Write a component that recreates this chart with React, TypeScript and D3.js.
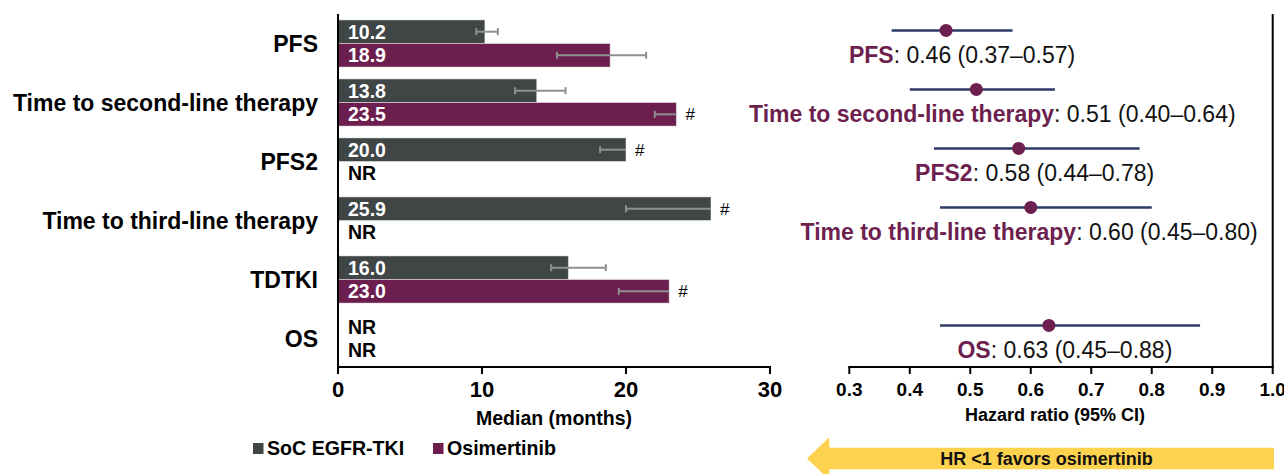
import React from "react";
import * as d3 from "d3";

const categories = [
  "PFS",
  "Time to second-line therapy",
  "PFS2",
  "Time to third-line therapy",
  "TDTKI",
  "OS",
];
// Median (months); null = NR (not reached)
const socMedian: (number | null)[] = [10.2, 13.8, 20.0, 25.9, 16.0, null];
const osiMedian: (number | null)[] = [18.9, 23.5, null, null, 23.0, null];
// 95% CI bounds; upper null = not reached (marked #)
const socLower: (number | null)[] = [9.6, 12.3, 18.2, 20.0, 14.8, null];
const socUpper: (number | null)[] = [11.1, 15.8, null, null, 18.6, null];
const osiLower: (number | null)[] = [15.2, 22.0, null, null, 19.5, null];
const osiUpper: (number | null)[] = [21.4, null, null, null, null, null];

// Hazard ratios
const hrValue: (number | null)[] = [0.46, 0.51, 0.58, 0.6, null, 0.63];
const hrLow: (number | null)[] = [0.37, 0.4, 0.44, 0.45, null, 0.45];
const hrHigh: (number | null)[] = [0.57, 0.64, 0.78, 0.8, null, 0.88];

const monthTicks = [0, 10, 20, 30];
const hrTicks = [0.3, 0.4, 0.5, 0.6, 0.7, 0.8, 0.9, 1.0];
const seriesNames = ["SoC EGFR-TKI", "Osimertinib"];

const SOC = "#404646";
const OSI = "#6c1f4e";
const PURPLE = "#6d1f4f";
const NAVY = "#2b3a67";
const ERR = "#8f8f8f";
const YELLOW = "#fdd24e";
const FONT = "'Liberation Sans', Arial, Helvetica, sans-serif";

let measureCtx: CanvasRenderingContext2D | null = null;
function textWidth(bold: string, normal: string, size: number): number {
  if (typeof document === "undefined") return (bold.length + normal.length) * size * 0.55;
  if (!measureCtx) measureCtx = document.createElement("canvas").getContext("2d");
  if (!measureCtx) return (bold.length + normal.length) * size * 0.55;
  measureCtx.font = `bold ${size}px 'Liberation Sans', Arial, sans-serif`;
  const wb = measureCtx.measureText(bold).width;
  measureCtx.font = `${size}px 'Liberation Sans', Arial, sans-serif`;
  const wn = measureCtx.measureText(normal).width;
  return wb + wn;
}

export default function App() {
  const W = 1284;
  const H = 474;
  const axisY = 367;
  const x = d3.scaleLinear().domain([0, 30]).range([338, 770]);
  const y = d3
    .scaleBand<string>()
    .domain(categories)
    .range([14, 368])
    .paddingInner(0.2)
    .paddingOuter(0.1);
  const sub = d3
    .scaleBand<string>()
    .domain(["soc", "osi"])
    .range([0, y.bandwidth()]);
  const hx = d3.scaleLinear().domain([0.3, 1.0]).range([849.3, 1272.7]);
  const f2 = d3.format(".2f");
  const f1 = d3.format(".1f");
  const fm = d3.format(".1f");

  const barRows = categories.map((c, i) => [
    { key: "soc", med: socMedian[i], lo: socLower[i], hi: socUpper[i], color: SOC },
    { key: "osi", med: osiMedian[i], lo: osiLower[i], hi: osiUpper[i], color: OSI },
  ]);

  return (
    <svg
      width={W}
      height={H}
      style={{ position: "absolute", left: 0, top: 0, background: "#fff" }}
      fontFamily={FONT}
    >
      {/* Category labels */}
      {categories.map((c) => (
        <text
          key={c}
          x={318}
          y={(y(c) as number) + y.bandwidth() / 2 + 8}
          textAnchor="end"
          fontSize={23}
          fontWeight="bold"
          fill="#000"
        >
          {c}
        </text>
      ))}

      {/* Bars */}
      {categories.map((c, i) =>
        barRows[i].map((b) => {
          const top = (y(c) as number) + (sub(b.key) as number);
          const h = sub.bandwidth();
          const cy = top + h / 2;
          if (b.med == null) {
            return (
              <text
                key={c + b.key}
                x={348}
                y={cy + 7}
                fontSize={19.5}
                fontWeight="bold"
                fill="#000"
              >
                NR
              </text>
            );
          }
          const x0 = x(0);
          const x1 = x(b.med);
          const lo = b.lo as number;
          const hiX = b.hi == null ? x1 : x(b.hi);
          return (
            <g key={c + b.key}>
              <rect
                x={x0}
                y={top}
                width={x1 - x0}
                height={h}
                fill={b.color}
                stroke="rgba(255,255,255,0.45)"
                strokeWidth={1}
              />
              <text
                x={348}
                y={cy + 7}
                fontSize={19.5}
                fontWeight="bold"
                fill="#fff"
              >
                {fm(b.med)}
              </text>
              <line x1={x(lo)} x2={hiX} y1={cy} y2={cy} stroke={ERR} strokeWidth={2} />
              <line x1={x(lo)} x2={x(lo)} y1={cy - 3.5} y2={cy + 3.5} stroke={ERR} strokeWidth={2} />
              {b.hi != null && (
                <line x1={hiX} x2={hiX} y1={cy - 3.5} y2={cy + 3.5} stroke={ERR} strokeWidth={2} />
              )}
              {b.hi == null && (
                <text x={x1 + 9} y={cy + 6} fontSize={17} fill="#000">
                  #
                </text>
              )}
            </g>
          );
        })
      )}

      {/* Left axes */}
      <line x1={x(0)} x2={x(0)} y1={14} y2={axisY} stroke="#000" strokeWidth={2} />
      <line x1={x(0) - 1} x2={x(30) + 1} y1={axisY} y2={axisY} stroke="#000" strokeWidth={2} />
      {monthTicks.map((t) => (
        <g key={"mt" + t}>
          <line x1={x(t)} x2={x(t)} y1={axisY} y2={axisY + 7} stroke="#000" strokeWidth={2} />
          <text
            x={x(t)}
            y={396.5}
            textAnchor="middle"
            fontSize={22}
            fontWeight="bold"
            fill="#000"
          >
            {t}
          </text>
        </g>
      ))}
      <text
        x={(x(0) + x(30)) / 2}
        y={425}
        textAnchor="middle"
        fontSize={19.5}
        fontWeight="bold"
        fill="#000"
      >
        Median (months)
      </text>

      {/* Legend */}
      {seriesNames.map((s, i) => {
        const lx = i === 0 ? 253 : 433;
        return (
          <g key={s}>
            <rect x={lx} y={443} width={10.5} height={11} fill={i === 0 ? SOC : OSI} />
            <text x={lx + 14} y={455} fontSize={19.6} fontWeight="bold" fill="#000">
              {s}
            </text>
          </g>
        );
      })}

      {/* Forest plot */}
      {categories.map((c, i) => {
        const v = hrValue[i];
        if (v == null) return null;
        const lo = hrLow[i] as number;
        const hi = hrHigh[i] as number;
        const bs = y(c) as number;
        const ly = bs + 10.5;
        const rest = `: ${f2(v)} (${f2(lo)}\u2013${f2(hi)})`;
        const w = textWidth(c, rest, 23);
        const labelX = Math.min(hx(v) + 16, hx(1) - 15 - w / 2);
        return (
          <g key={"hr" + c}>
            <line x1={hx(lo)} x2={hx(hi)} y1={ly} y2={ly} stroke={NAVY} strokeWidth={2.5} />
            <circle cx={hx(v)} cy={ly} r={6.5} fill={PURPLE} />
            <text x={labelX} y={bs + 43} textAnchor="middle" fontSize={23} fill="#111">
              <tspan fontWeight="bold" fill={PURPLE}>
                {c}
              </tspan>
              <tspan>{rest}</tspan>
            </text>
          </g>
        );
      })}
      <line x1={hx(1)} x2={hx(1)} y1={14} y2={axisY} stroke="#000" strokeWidth={2} />
      <line x1={hx(0.3) - 1} x2={hx(1) + 1} y1={axisY} y2={axisY} stroke="#000" strokeWidth={2} />
      {hrTicks.map((t) => (
        <g key={"ht" + t}>
          <line x1={hx(t)} x2={hx(t)} y1={axisY} y2={axisY + 7} stroke="#000" strokeWidth={2} />
          <text
            x={hx(t)}
            y={396}
            textAnchor="middle"
            fontSize={19}
            fontWeight="bold"
            fill="#000"
          >
            {f1(t)}
          </text>
        </g>
      ))}
      <text x={1055} y={421} textAnchor="middle" fontSize={18} fontWeight="bold" fill="#000">
        Hazard ratio (95% CI)
      </text>

      {/* Arrow */}
      <path
        d={`M807,458.5 L829.3,437.3 L829.3,447.7 L1274,447.7 L1274,469.3 L829.3,469.3 L829.3,479.7 Z`}
        fill={YELLOW}
      />
      <text x={1046.5} y={465} textAnchor="middle" fontSize={18} fontWeight="bold" fill="#111">
        HR &lt;1 favors osimertinib
      </text>
    </svg>
  );
}
